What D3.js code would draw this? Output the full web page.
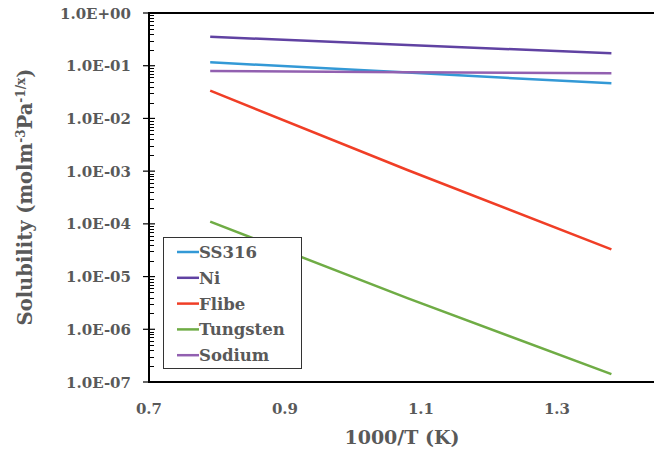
<!DOCTYPE html>
<meta charset="utf-8">
<style>
body { margin: 0; background: #fff; }
text { font-family: "DejaVu Serif", serif; font-weight: bold; fill: #595959; }
.line { fill: none; stroke-width: 2.5px; }
</style>
<body>
<script src="https://d3js.org/d3.v7.min.js"></script>
<script>

// 1000/T values and solubility per material
var xVals = [0.79, 1.08, 1.38];
var ss316 = [0.116, 0.074, 0.0463];
var ni = [0.355, 0.247, 0.172];
var flibe = [0.0336, 0.00105, 3.28e-5];
var tungsten = [1.1e-4, 3.9e-6, 1.41e-7];
var sodium = [0.079, 0.0753, 0.0718];

var names = ["SS316", "Ni", "Flibe", "Tungsten", "Sodium"];
var colors = ["#3399d6", "#6042a2", "#f03e26", "#6fac45", "#9260b0"];
var seriesVals = [ss316, ni, flibe, tungsten, sodium];

var xTicks = [0.7, 0.9, 1.1, 1.3];
var yTicks = [1, 1e-1, 1e-2, 1e-3, 1e-4, 1e-5, 1e-6, 1e-7];

var W = 654, H = 450;
var pLeft = 149, pTop = 13, pBottom = 382;

var svg = d3.select("body").append("svg")
    .attr("width", W)
    .attr("height", H);

var x = d3.scaleLinear().domain([0.7, 1.5]).range([pLeft, pLeft + 544]);
var y = d3.scaleLog().domain([1e-7, 1]).range([pBottom, pTop]);

// frame top
svg.append("line").attr("x1", pLeft).attr("x2", W).attr("y1", pTop).attr("y2", pTop)
    .attr("stroke", "#000").attr("stroke-width", 2);

// minor ticks (inside)
var minor = [];
for (var e = -7; e < 0; e++) {
  for (var m = 2; m < 10; m++) minor.push(m * Math.pow(10, e));
}
svg.append("g").selectAll("line").data(minor).enter().append("line")
    .attr("x1", pLeft).attr("x2", pLeft + 5)
    .attr("y1", function(d) { return Math.round(y(d)) + 0.5; })
    .attr("y2", function(d) { return Math.round(y(d)) + 0.5; })
    .attr("stroke", "#000").attr("stroke-width", 1);

// major ticks
svg.append("g").selectAll("line").data(yTicks).enter().append("line")
    .attr("x1", pLeft - 6).attr("x2", pLeft + 6)
    .attr("y1", function(d) { return y(d); })
    .attr("y2", function(d) { return y(d); })
    .attr("stroke", "#000").attr("stroke-width", 1.2);

svg.append("line").attr("x1", pLeft).attr("x2", pLeft).attr("y1", pTop - 1).attr("y2", pBottom + 1)
    .attr("stroke", "#000").attr("stroke-width", 2);
svg.append("line").attr("x1", pLeft).attr("x2", W).attr("y1", pBottom).attr("y2", pBottom)
    .attr("stroke", "#000").attr("stroke-width", 2);

// y tick labels
svg.append("g").selectAll("text").data(yTicks).enter().append("text")
    .attr("x", 131)
    .attr("y", function(d) { return y(d) + 5.5; })
    .attr("text-anchor", "end")
    .style("font-size", "15px")
    .text(function(d) { return d.toExponential(1).replace("e", "E").replace(/E([+-])(\d)$/, "E$10$2"); });

// x tick labels
svg.append("g").selectAll("text").data(xTicks).enter().append("text")
    .attr("x", function(d) { return x(d); })
    .attr("y", 414)
    .attr("text-anchor", "middle")
    .style("font-size", "15px")
    .text(function(d) { return d3.format(".1f")(d); });

// series lines
var line = d3.line()
    .x(function(d, i) { return x(xVals[i]); })
    .y(function(d) { return y(d); });

seriesVals.forEach(function(s, k) {
  svg.append("path")
      .datum(s)
      .attr("class", "line")
      .attr("stroke", colors[k])
      .attr("d", line);
});

// legend
var legend = svg.append("g").attr("transform", "translate(163,237)");
legend.append("rect")
    .attr("x", 0.5).attr("y", 0.5).attr("width", 138).attr("height", 131)
    .attr("fill", "#fff").attr("stroke", "#333").attr("stroke-width", 1);
names.forEach(function(n, k) {
  var yy = 15 + k * 25.8;
  legend.append("line")
      .attr("x1", 14).attr("x2", 36).attr("y1", yy).attr("y2", yy)
      .attr("stroke", colors[k]).attr("stroke-width", 2.5);
  legend.append("text")
      .attr("x", 36).attr("y", yy + 6)
      .style("font-size", "16.5px")
      .text(n);
});

// axis titles
svg.append("text")
    .attr("x", 402).attr("y", 444)
    .attr("text-anchor", "middle")
    .style("font-size", "19px")
    .text("1000/T (K)");

var yt = svg.append("text")
    .attr("transform", "translate(32,197) rotate(-90)")
    .attr("text-anchor", "middle")
    .style("font-size", "19.5px");
yt.append("tspan").text("Solubility (molm");
yt.append("tspan").attr("dy", -7).style("font-size", "12px").text("-3");
yt.append("tspan").attr("dy", 7).text("Pa");
yt.append("tspan").attr("dy", -7).style("font-size", "12px").text("-1/x");
yt.append("tspan").attr("dy", 7).text(")");

</script>
</body>
